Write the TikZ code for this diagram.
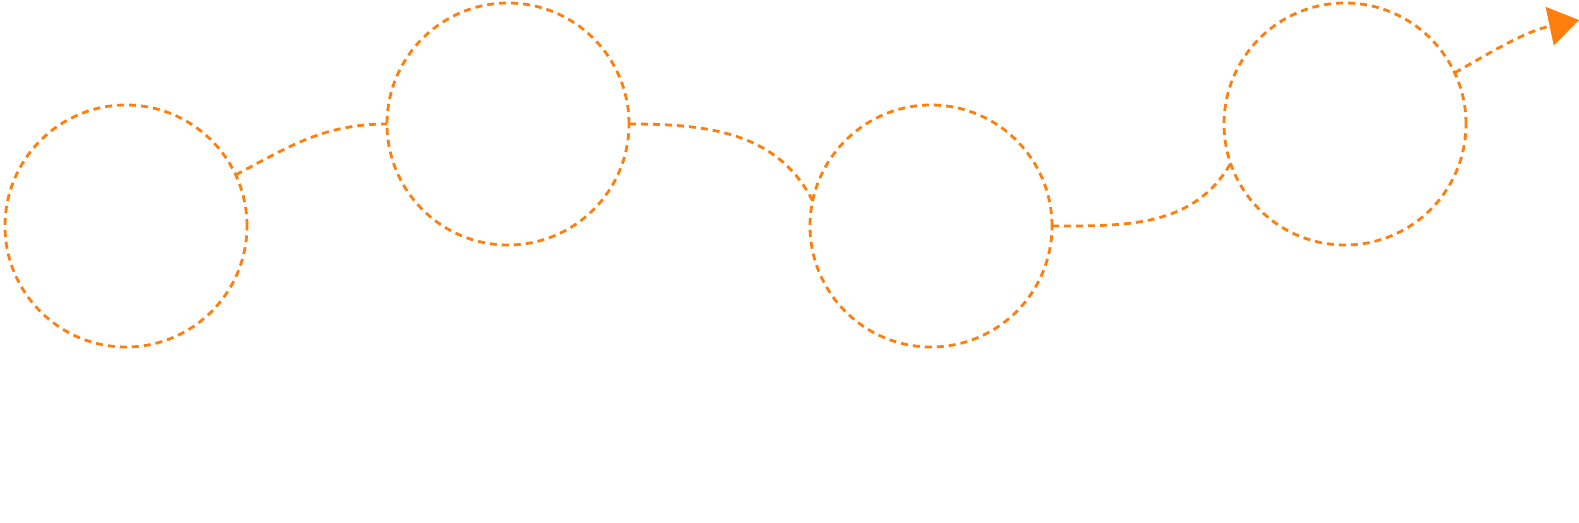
\documentclass[tikz,border=0pt]{standalone}
\usepackage{tikz}
\usetikzlibrary{arrows.meta,shapes}
\definecolor{routeorange}{HTML}{FF7F0E}
\tikzstyle{stopcircle} = [draw=routeorange, circle, minimum size=242pt, inner sep=0pt, outer sep=0pt]
\tikzstyle{routeline} = [draw=routeorange, line width=2.8pt, dash pattern=on 7pt off 5pt]

\begin{document}
\begin{tikzpicture}[x=1pt, y=-1pt, >={Triangle[length=30pt, width=39pt]}]
        \useasboundingbox (0,0) rectangle (1579,522);
        \path[] node[stopcircle,routeline] (s1) at (126,226) {};
        \path[] node[stopcircle,routeline] (s2) at (508,124) {};
        \path[] node[stopcircle,routeline] (s3) at (931,226) {};
        \path[] node[stopcircle,routeline] (s4) at (1345,124) {};
        \coordinate (goal) at (1579,20);
        \path[] (s1.25) edge[routeline, out=28, in=180] (s2.west);
        \path[] (s2.east) edge[routeline, out=0, in=117] (s3.168);
        \path[] (s3.east) edge[routeline, out=0, in=240] (s4.199);
        \path[] (s4.25) edge[routeline, ->, out=30, in=192] (goal);
      \end{tikzpicture}
\end{document}
